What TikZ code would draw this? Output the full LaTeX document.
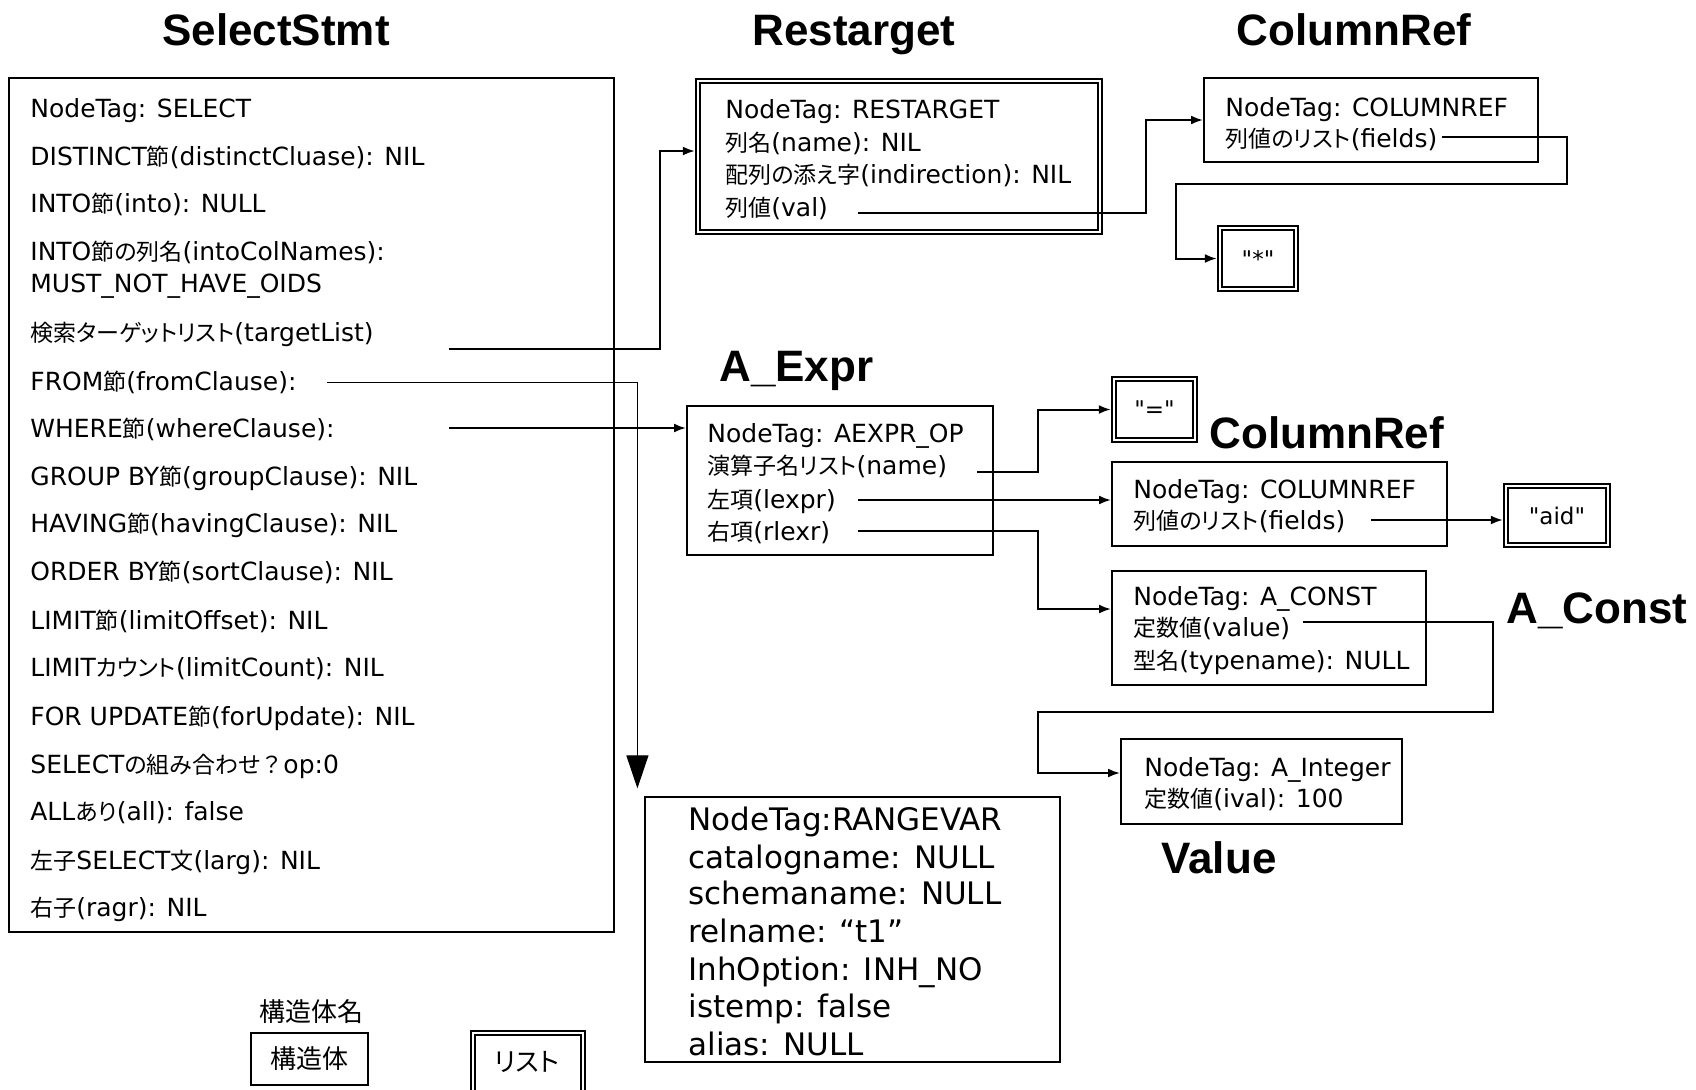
\documentclass[tikz,border=0pt]{standalone}
\usepackage{fontspec}
\usetikzlibrary{arrows.meta,calc,fit}
\newfontfamily\fldfont{DejaVu Sans}
\newfontfamily\ttlfont{Liberation Sans}
\newfontfamily\jpfont[RawFeature=+palt]{Noto Sans CJK JP}
\newfontfamily\jpwide{Noto Sans CJK JP}
\newcommand{\jp}[1]{{\jpfont\fontsize{11.5}{14}\selectfont #1}}
\newcommand{\jpw}[1]{{\jpwide\fontsize{11.5}{14}\selectfont #1}}

\begin{document}
\begin{tikzpicture}[
  x=0.5pt, y=-0.5pt,
  ttl/.style={font=\ttlfont\bfseries\fontsize{22}{26}\selectfont, inner sep=0, text height=15.8pt, text depth=0pt},
  fld/.style={font=\fldfont\fontsize{12.5}{15}\selectfont, anchor=west, inner sep=0, text height=9.1pt, text depth=0pt},
  rvfld/.style={font=\fldfont\fontsize{15.5}{18.75}\selectfont, anchor=west, inner sep=0, text height=11.3pt, text depth=0pt},
  qtxt/.style={font=\fldfont\fontsize{11.5}{14}\selectfont, inner sep=0},
  legfont/.style={font=\jpfont\fontsize{13}{16}\selectfont, inner sep=0},
  sbox/.style={draw, line width=1pt, inner sep=0},
  lbox/.style={draw, line width=0.9pt, double, double distance=1.4pt, inner sep=0, outer sep=1.6pt},
  rvbox/.style={draw, line width=0.6pt, inner sep=0},
  link/.style={line width=1pt, -{Latex[length=6pt,width=4.5pt]}},
  flink/.style={line width=0.5pt, -{Triangle[length=16.5pt,width=11pt]}},
]
\useasboundingbox (0,0) rectangle (1696,1089);

%% ── titles ───────────────────────────────────────────────
\node[ttl] (t-sel) at (276,30) {SelectStmt};
\node[ttl] (t-rt)  at (854,30) {Restarget};
\node[ttl] (t-cr1) at (1354,30) {ColumnRef};
\node[ttl, anchor=west] (t-ae)  at (719,366) {A\_Expr};
\node[ttl, anchor=west] (t-cr2) at (1209,433) {ColumnRef};
\node[ttl, anchor=west] (t-ac)  at (1506,608) {A\_Const};
\node[ttl] (t-val) at (1219,858) {Value};

%% ── boxes (corners in px, y downwards) ───────────────────
\node[sbox,  fit={(9,78) (614,932)}] (sel) {};
\node[lbox,  fit={(698,81) (1100,232)}] (rt) {};
\node[sbox,  fit={(1204,78) (1538,162)}] (cr1) {};
\node[lbox,  fit={(1220,228) (1296,289)}] (star) {};
\node[sbox,  fit={(687,406) (993,555)}] (ae) {};
\node[lbox,  fit={(1114,379) (1195,440)}] (eq) {};
\node[sbox,  fit={(1112,462) (1447,546)}] (cr2) {};
\node[lbox,  fit={(1506,486) (1608,545)}] (aid) {};
\node[sbox,  fit={(1112,571) (1426,685)}] (ac) {};
\node[sbox,  fit={(1121,739) (1402,824)}] (ai) {};
\node[rvbox, fit={(645,797) (1060,1062)}] (rv) {};

%% list contents
\node[qtxt] (star-txt) at (star.center) {"*"};
\node[qtxt] (eq-txt)   at (eq.center)   {"="};
\node[qtxt] (aid-txt)  at (aid.center)  {"aid"};

%% ── SelectStmt fields ────────────────────────────────────
\foreach \nm/\y/\txt in {
  s1/108/{NodeTag: SELECT},
  s2/156/{DISTINCT\jp{節}(distinctCluase): NIL},
  s3/203/{INTO\jp{節}(into): NULL},
  s4/251/{INTO\jp{節の列名}(intoColNames):},
  s4b/283/{MUST\_NOT\_HAVE\_OIDS},
  s5/332/{\jp{検索ターゲットリスト}(targetList)},
  s6/381/{FROM\jp{節}(fromClause):},
  s7/428/{WHERE\jp{節}(whereClause):},
  s8/476/{GROUP BY\jp{節}(groupClause): NIL},
  s9/523/{HAVING\jp{節}(havingClause): NIL},
  s10/571/{ORDER BY\jp{節}(sortClause): NIL},
  s11/620/{LIMIT\jp{節}(limitOffset): NIL},
  s12/667/{LIMIT\jp{カウント}(limitCount): NIL},
  s13/716/{FOR UPDATE\jp{節}(forUpdate): NIL},
  s14/764/{SELECT\jp{の組み合わせ}\jpw{？}op:0},
  s15/811/{ALL\jp{あり}(all): false},
  s16/860/{\jp{左子}SELECT\jp{文}(larg): NIL},
  s17/907/{\jp{右子}(ragr): NIL}}
  {\node[fld] (\nm) at (30,\y) {\txt};}

%% ── Restarget / ColumnRef fields ─────────────────────────
\node[fld] (r1) at (725,109) {NodeTag: RESTARGET};
\node[fld] (r2) at (725,142) {\jp{列名}(name): NIL};
\node[fld] (r3) at (725,174) {\jp{配列の添え字}(indirection): NIL};
\node[fld] (r4) at (725,207) {\jp{列値}(val)};

\node[fld] (c1) at (1225,107) {NodeTag: COLUMNREF};
\node[fld] (c2) at (1225,138) {\jp{列値のリスト}(fields)};

%% ── A_Expr and its children ──────────────────────────────
\node[fld] (a1) at (707,433) {NodeTag: AEXPR\_OP};
\node[fld] (a2) at (707,465) {\jp{演算子名リスト}(name)};
\node[fld] (a3) at (707,499) {\jp{左項}(lexpr)};
\node[fld] (a4) at (707,531) {\jp{右項}(rlexr)};

\node[fld] (d1) at (1133,489) {NodeTag: COLUMNREF};
\node[fld] (d2) at (1133,520) {\jp{列値のリスト}(fields)};

\node[fld] (k1) at (1133,596) {NodeTag: A\_CONST};
\node[fld] (k2) at (1133,627) {\jp{定数値}(value)};
\node[fld] (k3) at (1133,660) {\jp{型名}(typename): NULL};

\node[fld] (i1) at (1144,767) {NodeTag: A\_Integer};
\node[fld] (i2) at (1144,798) {\jp{定数値}(ival): 100};

%% ── RangeVar ─────────────────────────────────────────────
\foreach \nm/\y/\txt in {
  v1/819/{NodeTag:RANGEVAR},
  v2/857/{catalogname: NULL},
  v3/893/{schemaname: NULL},
  v4/931/{relname: “t1”},
  v5/969/{InhOption: INH\_NO},
  v6/1006/{istemp: false},
  v7/1044/{alias: NULL}}
  {\node[rvfld] (\nm) at (688,\y) {\txt};}

%% ── connector start points ───────────────────────────────
\coordinate (s5-out) at ($(s5.west)+(419,17)$);
\coordinate (s6-out) at ($(s6.west)+(297,1)$);
\coordinate (s7-out) at ($(s7.west)+(419,0)$);
\coordinate (r4-out) at ($(r4.west)+(133,6)$);
\coordinate (c2-out) at ($(c2.west)+(217,-1)$);
\coordinate (a2-out) at ($(a2.west)+(270,7)$);
\coordinate (a3-out) at ($(a3.west)+(151,1)$);
\coordinate (a4-out) at ($(a4.west)+(151,0)$);
\coordinate (d2-out) at ($(d2.west)+(238,0)$);
\coordinate (k2-out) at ($(k2.west)+(170,-5)$);
\coordinate (rv-in)  at ($(rv.north west)+(-7,-8)$);

%% ── connectors ───────────────────────────────────────────
\draw[link]  (s5-out) -- ++(211,0) |- ([yshift=2.75pt]rt.west);
\draw[flink] (s6-out) -| (rv-in);
\draw[link]  (s7-out) -- (s7-out -| ae.west);
\draw[link]  (r4-out) -- ++(288,0) |- (cr1.west);
\draw[link]  (c2-out) -- ++(125,0) |- ++(-391,47) |- (star.west);
\draw[link]  (a2-out) -- ++(61,0) |- (eq.west);
\draw[link]  (a3-out) -- (a3-out -| cr2.west);
\draw[link]  (a4-out) -- ++(180,0) |- ([yshift=9.5pt]ac.west);
\draw[link]  (d2-out) -- (d2-out -| aid.west);
\draw[link]  (k2-out) -- ++(190,0) |- ++(-455,90) |- ([yshift=4.25pt]ai.west);

%% ── legend ───────────────────────────────────────────────
\node[sbox, fit={(251,1033) (368,1085)}] (leg-s) {};
\node[lbox, fit={(473,1033) (583,1094)}] (leg-l) {};
\node[legfont] (leg-name) at (311,1012) {構造体名};
\node[legfont] (leg-s-txt) at (leg-s.center) {構造体};
\node[legfont] (leg-l-txt) at (527,1062) {リスト};

\end{tikzpicture}
\end{document}
